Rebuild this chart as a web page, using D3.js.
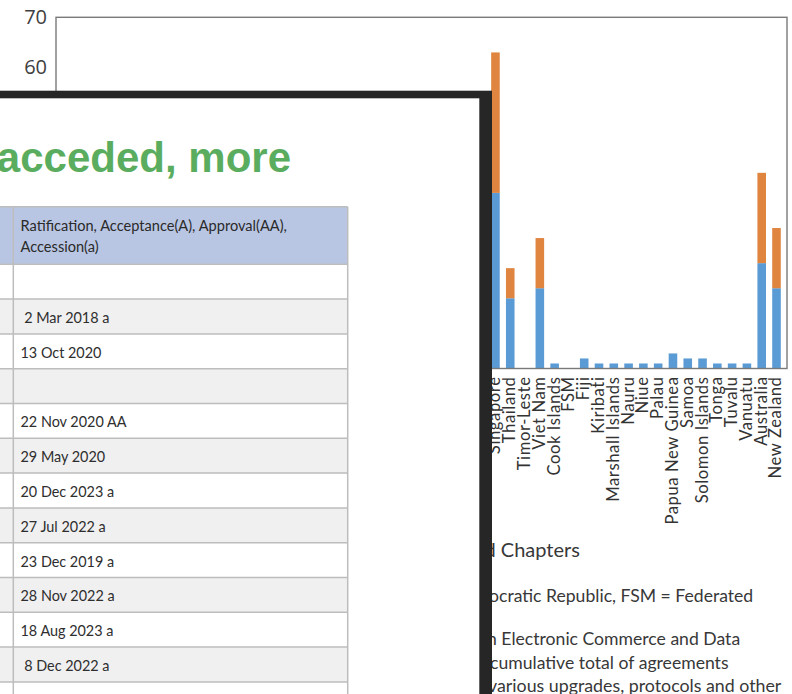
<!DOCTYPE html>
<html><head><meta charset="utf-8">
<script src="https://cdn.jsdelivr.net/npm/d3@7"></script>
<style>html,body{margin:0;padding:0;background:#fff;overflow:hidden} svg{display:block}</style>
</head><body>
<svg id="c" width="792" height="694"></svg>
<script>
// ---------- data ----------
const categories = ["Afghanistan","Armenia","Azerbaijan","Georgia","Kazakhstan","Kyrgyz Republic","Pakistan","Tajikistan","Turkmenistan","Uzbekistan",
  "PRC","Hong Kong, China","Japan","Mongolia","Republic of Korea","Taipei,China",
  "Bangladesh","Bhutan","India","Maldives","Nepal","Sri Lanka",
  "Brunei Darussalam","Cambodia","Indonesia","Lao PDR","Malaysia","Myanmar","Philippines",
  "Singapore","Thailand","Timor-Leste","Viet Nam",
  "Cook Islands","FSM","Fiji","Kiribati","Marshall Islands","Nauru","Niue","Palau","Papua New Guinea","Samoa","Solomon Islands","Tonga","Tuvalu","Vanuatu",
  "Australia","New Zealand"];
// lower (blue) segment
const blueValues = [0,1,0,2,2,2,2,1,0,0,
  14,9,22,1,26,3,
  0,0,5,0,0,2,
  14,12,15,12,17,12,14,
  35,14,0,16,
  1,0,2,1,1,1,1,1,3,2,2,1,1,1,
  21,16];
// upper (orange) segment
const orangeValues = [0,1,0,1,1,1,0,0,0,0,
  6,3,12,0,14,1,
  0,0,2,0,0,0,
  6,4,6,4,8,4,5,
  28,6,0,10,
  0,0,0,0,0,0,0,0,0,0,0,0,0,0,
  18,12];
const yTicks = [0,10,20,30,40,50,60,70];

const noteLines = [
  {hidden:"Figure 2.5: Agreements with Digital Trade Provisions an", visible:"d Chapters"},
  {hidden:"Lao PDR = Lao People\u2019s Dem", visible:"ocratic Republic, FSM = Federated"},
  {hidden:"Notes: Agreements with a chapter o", visible:"n Electronic Commerce and Data"},
  {hidden:"Numbers show the ", visible:"cumulative total of agreements"},
  {hidden:"in force, including ", visible:"various upgrades, protocols and other"}
];
const overlayTitle = "acceded, more";
const tableHeader = ["Ratification, Acceptance(A), Approval(AA),", "Accession(a)"];
const tableRows = ["", " 2 Mar 2018 a", "13 Oct 2020", "", "22 Nov 2020 AA", "29 May 2020", "20 Dec 2023 a",
  "27 Jul 2022 a", "23 Dec 2019 a", "28 Nov 2022 a", "18 Aug 2023 a", " 8 Dec 2022 a", "9 Jan 2023"];

// ---------- chart ----------
const svg = d3.select("#c");
const L = 56, R = 787, T = 17.3, B = 368.5;
const x = d3.scaleBand().domain(categories).range([L, R]).padding(0.42);
const y = d3.scaleLinear().domain([0, 70]).range([B, T]);

const stackData = categories.map((c, i) => ({cat: c, blue: blueValues[i], orange: orangeValues[i]}));
const stack = d3.stack().keys(["blue", "orange"])(stackData);
const colors = {blue: "#5b9bd5", orange: "#df8540"};

svg.append("g").selectAll("g").data(stack).join("g")
  .attr("fill", d => colors[d.key])
  .selectAll("rect").data(d => d).join("rect")
  .attr("x", d => x(d.data.cat))
  .attr("width", x.bandwidth())
  .attr("y", d => y(d[1]))
  .attr("height", d => Math.max(0, y(d[0]) - y(d[1])));

// frame
svg.append("rect").attr("x", L).attr("y", T).attr("width", R - L).attr("height", B - T)
  .attr("fill", "none").attr("stroke", "#7a7a7a").attr("stroke-width", 1.4);

// y axis
const yAxis = d3.axisLeft(y).tickValues(yTicks).tickSize(0).tickPadding(9);
const gy = svg.append("g").attr("transform", `translate(${L},0)`).call(yAxis);
gy.select(".domain").remove();
gy.selectAll("text").attr("font-family", "Open Sans, sans-serif").attr("font-size", 20).attr("fill", "#404040");

// x axis labels
const xAxis = d3.axisBottom(x).tickSize(0).tickPadding(0);
const gx = svg.append("g").attr("transform", `translate(0,${B})`).call(xAxis);
gx.select(".domain").remove();
gx.selectAll("text")
  .attr("font-family", "Lato, sans-serif").attr("font-size", 16.6).attr("fill", "#333")
  .attr("letter-spacing", "0.6px")
  .attr("text-anchor", "end").attr("dy", null).attr("y", 0)
  .attr("dominant-baseline", "central")
  .attr("transform", "translate(-1,8) rotate(-90)");

// notes
const noteY = [549, 595, 638, 662, 685];
const noteX = [484.5, 489, 487, 490, 488];
const noteSize = [20, 17.6, 17.6, 17.6, 17.8];
const notes = svg.append("g").attr("font-family", "Lato, sans-serif").attr("fill", "#383838");
notes.selectAll("text.v").data(noteLines).join("text").attr("class", "v")
  .attr("x", (d, i) => noteX[i]).attr("y", (d, i) => noteY[i])
  .attr("dominant-baseline", "central")
  .attr("font-size", (d, i) => noteSize[i])
  .text(d => d.visible);
notes.selectAll("text.h").data(noteLines).join("text").attr("class", "h")
  .attr("x", (d, i) => noteX[i]).attr("y", (d, i) => noteY[i])
  .attr("dominant-baseline", "central").attr("text-anchor", "end")
  .attr("font-size", (d, i) => noteSize[i])
  .text(d => d.hidden);

// ---------- overlay window ----------
const ov = svg.append("g");
ov.append("rect").attr("x", 0).attr("y", 90.7).attr("width", 492).attr("height", 610).attr("fill", "#262626");
ov.append("rect").attr("x", 0).attr("y", 98.3).attr("width", 479.3).attr("height", 600).attr("fill", "#ffffff");
ov.append("text").attr("x", 291).attr("y", 172).attr("text-anchor", "end")
  .attr("font-family", "Liberation Sans, Arial, sans-serif").attr("font-weight", "bold")
  .attr("font-size", 42).attr("fill", "#5aad5e").text(overlayTitle);

const tblL = 0, tblC = 13.3, tblR = 347.7, hTop = 206.7, hBot = 264.3, rowH = 34.8;
const tbl = ov.append("g");
tbl.append("rect").attr("x", tblL).attr("y", hTop).attr("width", tblR - tblL).attr("height", hBot - hTop).attr("fill", "#b9c6e3");
tbl.selectAll("rect.row").data(tableRows).join("rect").attr("class", "row")
  .attr("x", tblL).attr("y", (d, i) => hBot + i * rowH).attr("width", tblR - tblL).attr("height", rowH)
  .attr("fill", (d, i) => i % 2 ? "#f0f0f0" : "#ffffff");
const hLines = [hTop, hBot].concat(tableRows.map((d, i) => hBot + (i + 1) * rowH));
tbl.selectAll("line.h").data(hLines).join("line").attr("class", "h")
  .attr("x1", tblL).attr("x2", tblR).attr("y1", d => d).attr("y2", d => d)
  .attr("stroke", "#bdbdbd").attr("stroke-width", 1.5);
tbl.selectAll("line.v").data([tblC, tblR]).join("line").attr("class", "v")
  .attr("x1", d => d).attr("x2", d => d).attr("y1", hTop).attr("y2", 700)
  .attr("stroke", "#bdbdbd").attr("stroke-width", 1.5);
tbl.selectAll("text.hd").data(tableHeader).join("text").attr("class", "hd")
  .attr("x", 20.5).attr("y", (d, i) => 225 + i * 21.5).attr("dominant-baseline", "central")
  .attr("font-family", "Lato, sans-serif").attr("font-size", 14.6).attr("fill", "#2a2a2a")
  .style("white-space", "pre").text(d => d);
tbl.selectAll("text.cell").data(tableRows).join("text").attr("class", "cell")
  .attr("x", 20.5).attr("y", (d, i) => hBot + i * rowH + rowH / 2 + 1).attr("dominant-baseline", "central")
  .attr("font-family", "Lato, sans-serif").attr("font-size", 14.4).attr("fill", "#2e2e2e")
  .attr("xml:space", "preserve").style("white-space", "pre").text(d => d);
</script>
</body></html>
